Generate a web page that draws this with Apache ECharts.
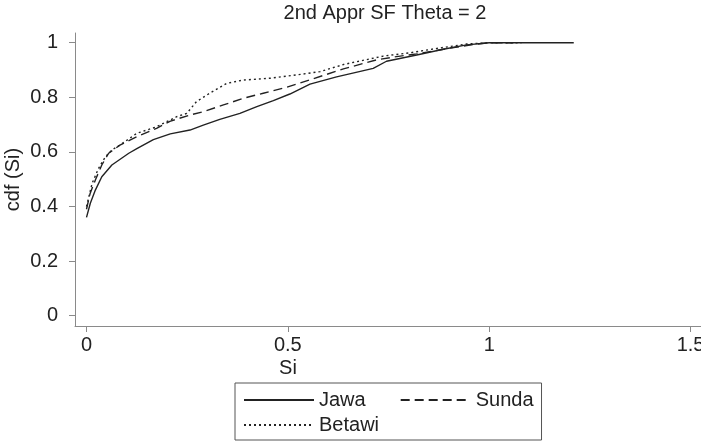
<!DOCTYPE html>
<html>
<head>
<meta charset="utf-8">
<script src="https://cdn.jsdelivr.net/npm/echarts@6/dist/echarts.min.js"></script>
<style>html,body{margin:0;padding:0;background:#fff}#c{width:701px;height:441px}</style>
</head>
<body>
<div id="c"></div>
<script>
var xTicks = [0, 0.5, 1, 1.5];
var yTicks = [0, 0.2, 0.4, 0.6, 0.8, 1];

var jawaX = [0, 0.0095, 0.022, 0.038, 0.063, 0.105, 0.125, 0.166, 0.208, 0.257, 0.29, 0.331, 0.381, 0.423, 0.464, 0.505, 0.555, 0.621, 0.68, 0.712, 0.745, 0.82, 0.886, 0.944, 1.0, 1.21];
var jawaY = [0.36, 0.412, 0.46, 0.509, 0.552, 0.595, 0.612, 0.645, 0.666, 0.68, 0.698, 0.719, 0.741, 0.766, 0.788, 0.812, 0.848, 0.875, 0.895, 0.906, 0.932, 0.955, 0.976, 0.992, 1.0, 1.0];

var sundaX = [0, 0.009, 0.022, 0.038, 0.055, 0.083, 0.125, 0.174, 0.207, 0.257, 0.29, 0.34, 0.389, 0.439, 0.497, 0.563, 0.638, 0.72, 0.77, 0.82, 0.903, 0.969, 1.0, 1.06];
var sundaY = [0.39, 0.448, 0.497, 0.552, 0.595, 0.625, 0.656, 0.686, 0.712, 0.735, 0.747, 0.772, 0.796, 0.815, 0.837, 0.868, 0.904, 0.937, 0.949, 0.959, 0.98, 0.995, 1.0, 1.0];

var betawiX = [0, 0.014, 0.03, 0.047, 0.063, 0.083, 0.125, 0.174, 0.224, 0.249, 0.273, 0.306, 0.348, 0.389, 0.456, 0.522, 0.58, 0.638, 0.737, 0.803, 0.87, 0.944, 1.0, 1.08];
var betawiY = [0.40, 0.485, 0.54, 0.582, 0.607, 0.625, 0.668, 0.692, 0.729, 0.741, 0.784, 0.815, 0.851, 0.863, 0.87, 0.882, 0.894, 0.92, 0.951, 0.963, 0.979, 0.995, 1.0, 1.0];

function pairs(xs, ys) { return xs.map(function (x, i) { return [x, ys[i]]; }); }

var FONT = 'Liberation Sans, Arial, Helvetica, sans-serif';
var lineColor = '#222';
var noSymbol = {color: 'rgba(0,0,0,0)', borderColor: 'rgba(0,0,0,0)', borderWidth: 0};

var chart = echarts.init(document.getElementById('c'), null, {renderer: 'canvas'});
chart.setOption({
  animation: false,
  backgroundColor: '#fff',
  title: [
    {text: '2nd Appr SF Theta = 2', left: 385, top: 3, textAlign: 'center', padding: 0,
     textStyle: {fontFamily: FONT, fontSize: 20, fontWeight: 'normal', color: '#222'}},
    {text: 'Si', left: 288, top: 358, textAlign: 'center', padding: 0,
     textStyle: {fontFamily: FONT, fontSize: 20, fontWeight: 'normal', color: '#222'}}
  ],
  grid: {left: 75, right: 0, top: 33, bottom: 115, containLabel: false, outerBoundsMode: 'none'},
  xAxis: {
    type: 'value', min: -0.02856, max: 1.526,
    splitLine: {show: false},
    axisLine: {show: true, onZero: false, lineStyle: {color: '#8a8a8a', width: 1}},
    axisTick: {show: true, length: 6, customValues: xTicks, lineStyle: {color: '#8a8a8a'}},
    axisLabel: {customValues: xTicks, margin: 9, fontFamily: FONT, fontSize: 20, color: '#222',
      formatter: function (v) { return String(v); }}
  },
  yAxis: {
    type: 'value', min: -0.03773, max: 1.0355,
    name: 'cdf (Si)', nameLocation: 'middle', nameGap: 52, nameMoveOverlap: false,
    nameTextStyle: {fontFamily: FONT, fontSize: 20, color: '#222'},
    splitLine: {show: false},
    axisLine: {show: true, onZero: false, lineStyle: {color: '#8a8a8a', width: 1}},
    axisTick: {show: true, length: 6, customValues: yTicks, lineStyle: {color: '#8a8a8a'}},
    axisLabel: {customValues: yTicks, margin: 17, fontFamily: FONT, fontSize: 20, color: '#222',
      formatter: function (v) { return String(Math.round(v * 10) / 10); }}
  },
  legend: [
    {data: ['Jawa', 'Sunda'], orient: 'horizontal', left: 235, top: 383,
     padding: [7, 8, 30, 8], itemGap: 34, itemWidth: 70, itemHeight: 20,
     borderColor: '#555', borderWidth: 1, itemStyle: noSymbol,
     textStyle: {fontFamily: FONT, fontSize: 20, color: '#222'}},
    {data: ['Betawi'], orient: 'horizontal', left: 235, top: 415,
     padding: [0, 8, 0, 8], itemWidth: 70, itemHeight: 20, itemStyle: noSymbol,
     textStyle: {fontFamily: FONT, fontSize: 20, color: '#222'}}
  ],
  series: [
    {name: 'Jawa', type: 'line', data: pairs(jawaX, jawaY), symbol: 'none',
     lineStyle: {color: lineColor, width: 1.4, type: 'solid'}, itemStyle: {color: lineColor}},
    {name: 'Sunda', type: 'line', data: pairs(sundaX, sundaY), symbol: 'none',
     lineStyle: {color: lineColor, width: 1.4, type: [9, 5]}, itemStyle: {color: lineColor}},
    {name: 'Betawi', type: 'line', data: pairs(betawiX, betawiY), symbol: 'none',
     lineStyle: {color: lineColor, width: 1.4, type: [2, 3]}, itemStyle: {color: lineColor}}
  ]
});
</script>
</body>
</html>
